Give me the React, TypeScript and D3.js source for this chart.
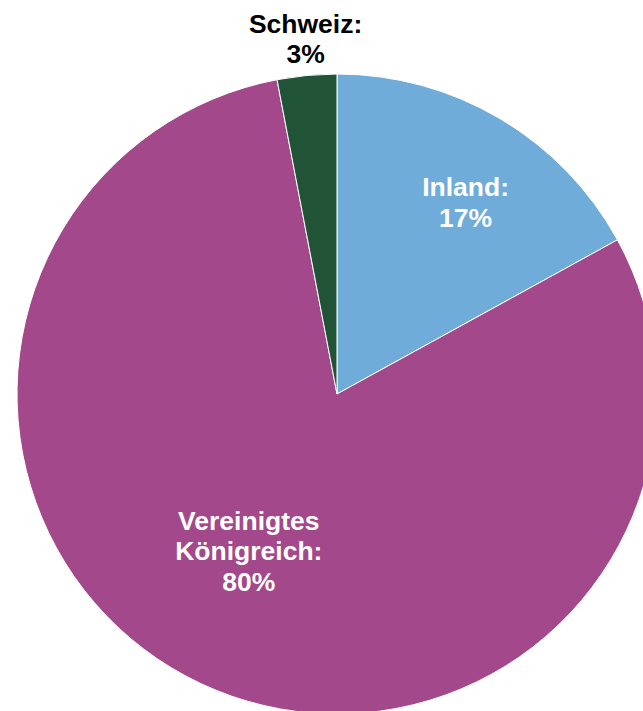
import React from "react";
import * as d3 from "d3";

const categories = ["Inland", "Vereinigtes Königreich", "Schweiz"];
const values = [17, 80, 3];
const labelLines = [["Inland:", "17%"], ["Vereinigtes", "Königreich:", "80%"], ["Schweiz:", "3%"]];
const colors = ["#6FACD9", "#A3488A", "#215436"];
const textColors = ["#ffffff", "#ffffff", "#000000"];

const W = 643;
const H = 711;
const cx = 337;
const cy = 394;
const R = 320;
// label layout: radius for centroid and small nudge
const labelLayout = [
  { r: 231, dx: 11, dy: 7 },
  { r: 179, dx: -12, dy: -5 },
  { r: 355, dx: 2, dy: -2 },
];
const fontSize = 26.5;
const lineH = 30.5;

export default function App() {
  const pie = d3.pie<number>().sort(null).value((d) => d);
  const arcs = pie(values);
  const arcGen = d3.arc<d3.PieArcDatum<number>>().innerRadius(0).outerRadius(R);
  return (
    <svg
      width={W}
      height={H}
      style={{ position: "absolute", left: 0, top: 0, background: "#fff" }}
    >
      <g transform={`translate(${cx},${cy})`}>
        {arcs.map((a, i) => (
          <path key={categories[i]} d={arcGen(a) || ""} fill={colors[i]} stroke="#ffffff" strokeWidth={1} />
        ))}
        {arcs.map((a, i) => {
          const L = labelLayout[i];
          const [x, y] = d3.arc<d3.PieArcDatum<number>>().innerRadius(L.r).outerRadius(L.r).centroid(a);
          const px = x + L.dx;
          const py = y + L.dy;
          const lines = labelLines[i];
          return (
            <text
              key={"l" + i}
              textAnchor="middle"
              fontFamily="'Liberation Sans', Arial, sans-serif"
              fontWeight="bold"
              fontSize={fontSize}
              fill={textColors[i]}
            >
              {lines.map((t, j) => (
                <tspan key={j} x={px} y={py + (j - (lines.length - 1) / 2) * lineH + 9.5}>
                  {t}
                </tspan>
              ))}
            </text>
          );
        })}
      </g>
    </svg>
  );
}
